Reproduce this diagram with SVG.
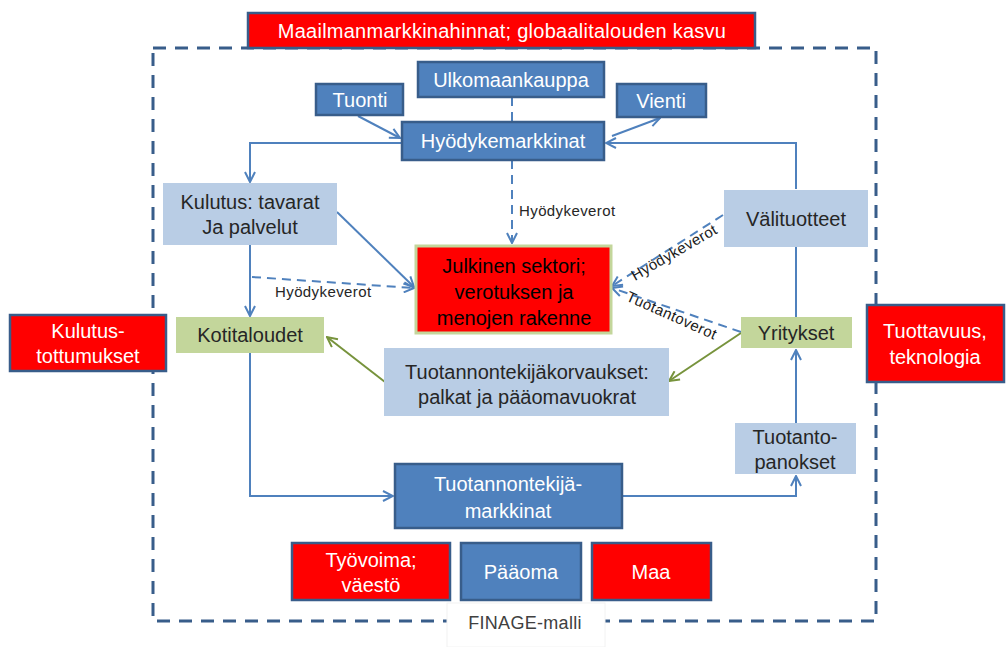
<svg xmlns="http://www.w3.org/2000/svg" width="1008" height="647" viewBox="0 0 1008 647">
<defs>
<marker id="ab" viewBox="0 0 12 12" refX="11" refY="6" markerWidth="12" markerHeight="12" markerUnits="userSpaceOnUse" orient="auto">
<path d="M1,1 L11,6 L1,11" fill="none" stroke="#4f81bd" stroke-width="2"/>
</marker>
<marker id="ag" viewBox="0 0 12 12" refX="11" refY="6" markerWidth="12" markerHeight="12" markerUnits="userSpaceOnUse" orient="auto">
<path d="M1,1 L11,6 L1,11" fill="none" stroke="#77933c" stroke-width="2"/>
</marker>
</defs>
<style>
text{font-family:"Liberation Sans",Arial,sans-serif;text-anchor:middle;dominant-baseline:central}
.dk{fill:#4f81bd;stroke:#385d8a;stroke-width:2.5}
.rd{fill:#ff0000;stroke:#385d8a;stroke-width:2.5}
.lb{fill:#b9cde5}
.gr{fill:#c3d69b}
.w{fill:#ffffff;font-size:20px}
.k{fill:#262626;font-size:20px}
.sm{fill:#262626;font-size:15px;letter-spacing:0.4px}
.c{fill:none;stroke:#4f81bd;stroke-width:2}
.cd{fill:none;stroke:#4f81bd;stroke-width:2;stroke-dasharray:9 6}
.cg{fill:none;stroke:#77933c;stroke-width:2}
</style>
<rect width="1008" height="647" fill="#ffffff"/>
<g id="frame">
<rect x="153" y="48" width="723" height="573" fill="none" stroke="#385d8a" stroke-width="3" stroke-dasharray="13 9"/>
</g>
<g id="connectors">
<line class="cd" x1="512" y1="97" x2="512" y2="122"/>
<line class="c" x1="358" y1="116" x2="400" y2="138" marker-end="url(#ab)"/>
<line class="c" x1="612" y1="136" x2="660" y2="118" marker-end="url(#ab)"/>
<polyline class="c" points="402,143 250,143 250,182" marker-end="url(#ab)"/>
<polyline class="c" points="796,189 796,143 606,143" marker-end="url(#ab)"/>
<line class="cd" x1="512" y1="160" x2="512" y2="243" marker-end="url(#ab)"/>
<line class="c" x1="337" y1="212" x2="414" y2="287" marker-end="url(#ab)"/>
<line class="c" x1="250" y1="245" x2="250" y2="316" marker-end="url(#ab)"/>
<line class="cd" x1="252" y1="277" x2="414" y2="288" marker-end="url(#ab)"/>
<line class="cd" x1="723" y1="215" x2="612" y2="286" marker-end="url(#ab)"/>
<line class="cd" x1="741" y1="332" x2="612" y2="288" marker-end="url(#ab)"/>
<line class="c" x1="796" y1="247" x2="796" y2="317"/>
<line class="cg" x1="741" y1="333" x2="669" y2="381" marker-end="url(#ag)"/>
<line class="cg" x1="385" y1="382" x2="327" y2="337" marker-end="url(#ag)"/>
<line class="c" x1="796" y1="423" x2="796" y2="350" marker-end="url(#ab)"/>
<polyline class="c" points="250,353 250,496 393,496" marker-end="url(#ab)"/>
<polyline class="c" points="622,496 796,496 796,476" marker-end="url(#ab)"/>
<text class="sm" x="519" y="210" style="text-anchor:start">Hyödykeverot</text>
<text class="sm" x="275" y="291" style="text-anchor:start">Hyödykeverot</text>
<text class="sm" transform="translate(674,252) rotate(-30)" style="fill:#1a1a1a">Hyödykeverot</text>
<text class="sm" transform="translate(672,315) rotate(24)" style="fill:#1a1a1a">Tuotantoverot</text>
</g>
<g id="maailman">
<rect class="rd" x="248" y="13" width="507" height="35"/>
<text class="w" x="502" y="31" style="letter-spacing:0.25px">Maailmanmarkkinahinnat; globaalitalouden kasvu</text>
</g>
<g id="ulkomaankauppa">
<rect class="dk" x="418" y="62" width="186" height="35"/>
<text class="w" x="511" y="80">Ulkomaankauppa</text>
</g>
<g id="tuonti">
<rect class="dk" x="316" y="84" width="87" height="31"/>
<text class="w" x="360" y="100">Tuonti</text>
</g>
<g id="vienti">
<rect class="dk" x="617" y="84" width="89" height="33"/>
<text class="w" x="661" y="101">Vienti</text>
</g>
<g id="hyodykemarkkinat">
<rect class="dk" x="402" y="122" width="202" height="38"/>
<text class="w" x="503" y="141">Hyödykemarkkinat</text>
</g>
<g id="kulutus">
<rect class="lb" x="163" y="183" width="174" height="62"/>
<text class="k" x="250" y="202">Kulutus: tavarat</text>
<text class="k" x="250" y="227">Ja palvelut</text>
</g>
<g id="valituotteet">
<rect class="lb" x="724" y="190" width="144" height="57"/>
<text class="k" x="796" y="219">Välituotteet</text>
</g>
<g id="julkinen">
<rect x="416" y="246" width="195" height="87" fill="#ff0000" stroke="#c3d69b" stroke-width="3"/>
<text x="514" y="266" style="font-size:20px;fill:#000">Julkinen sektori;</text>
<text x="514" y="292" style="font-size:20px;fill:#000">verotuksen ja</text>
<text x="514" y="318" style="font-size:20px;fill:#000">menojen rakenne</text>
</g>
<g id="kotitaloudet">
<rect class="gr" x="176" y="317" width="148" height="36"/>
<text class="k" x="250" y="335">Kotitaloudet</text>
</g>
<g id="yritykset">
<rect class="gr" x="741" y="317" width="111" height="31"/>
<text class="k" x="796" y="333">Yritykset</text>
</g>
<g id="kulutustottumukset">
<rect class="rd" x="10" y="315" width="156" height="56"/>
<text class="w" x="88" y="331">Kulutus-</text>
<text class="w" x="88" y="356">tottumukset</text>
</g>
<g id="tuottavuus">
<rect class="rd" x="867" y="305" width="137" height="77"/>
<text class="w" x="935" y="331">Tuottavuus,</text>
<text class="w" x="935" y="357">teknologia</text>
</g>
<g id="korvaukset">
<rect class="lb" x="384" y="348" width="285" height="68"/>
<text class="k" x="527" y="372">Tuotannontekijäkorvaukset:</text>
<text class="k" x="527" y="397">palkat ja pääomavuokrat</text>
</g>
<g id="panokset">
<rect class="lb" x="735" y="423" width="121" height="51"/>
<text class="k" x="795" y="437">Tuotanto-</text>
<text class="k" x="795" y="462">panokset</text>
</g>
<g id="tekijamarkkinat">
<rect class="dk" x="395" y="464" width="227" height="64"/>
<text class="w" x="508" y="484">Tuotannontekijä-</text>
<text class="w" x="508" y="511">markkinat</text>
</g>
<g id="tyovoima">
<rect class="rd" x="292" y="543" width="158" height="57"/>
<text class="w" x="371" y="560">Työvoima;</text>
<text class="w" x="371" y="585">väestö</text>
</g>
<g id="paaoma">
<rect class="dk" x="461" y="543" width="120" height="57"/>
<text class="w" x="521" y="572">Pääoma</text>
</g>
<g id="maa">
<rect class="rd" x="592" y="543" width="119" height="57"/>
<text class="w" x="651" y="572">Maa</text>
</g>
<g id="finage">
<rect x="447" y="603" width="158" height="44" fill="#ffffff" stroke="#f2f2f2" stroke-width="1"/>
<text x="525" y="623" style="font-size:18px;fill:#404040;letter-spacing:0.3px">FINAGE-malli</text>
</g>
</svg>
